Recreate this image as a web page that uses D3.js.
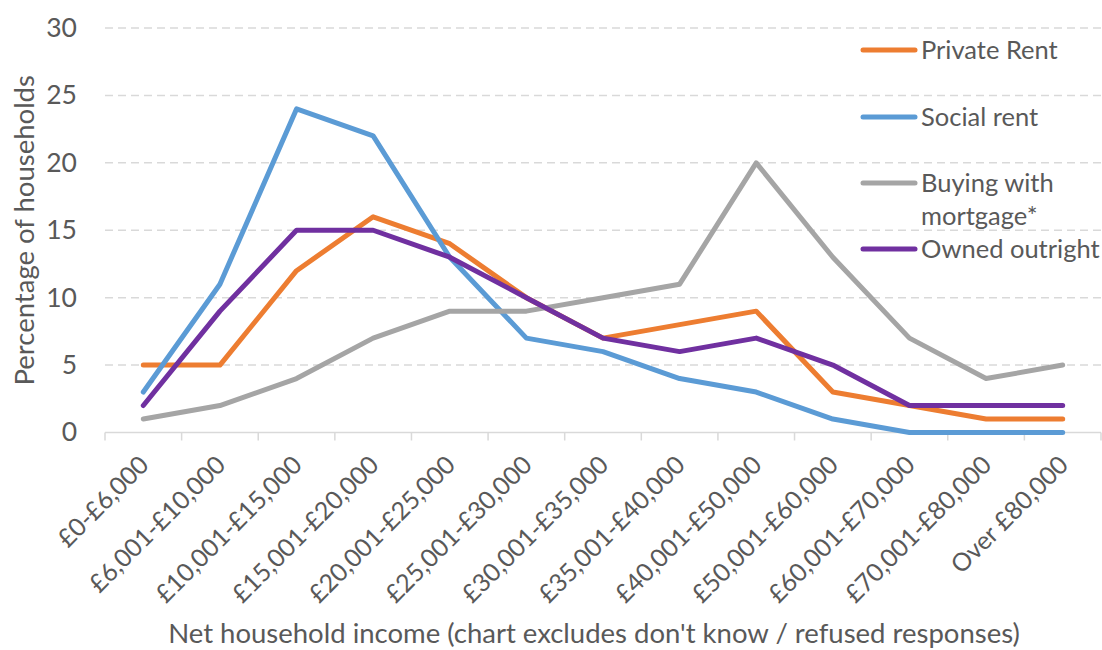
<!DOCTYPE html>
<html>
<head>
<meta charset="utf-8">
<script src="https://cdn.jsdelivr.net/npm/d3@7"></script>
<style>
  html, body { margin: 0; padding: 0; background: #ffffff; }
  svg { display: block; font-family: Lato, "Open Sans", sans-serif; }
</style>
</head>
<body>
<svg id="chart" width="1102" height="650"></svg>
<script>
// Income bands (x axis categories)
const categories = [
  "£0-£6,000", "£6,001-£10,000", "£10,001-£15,000", "£15,001-£20,000",
  "£20,001-£25,000", "£25,001-£30,000", "£30,001-£35,000", "£35,001-£40,000",
  "£40,001-£50,000", "£50,001-£60,000", "£60,001-£70,000", "£70,001-£80,000",
  "Over £80,000"
];

// Percentage of households in each band, by tenure
const privateRent    = [5, 5, 12, 16, 14, 10, 7, 8, 9, 3, 2, 1, 1];
const socialRent     = [3, 11, 24, 22, 13, 7, 6, 4, 3, 1, 0, 0, 0];
const buyingMortgage = [1, 2, 4, 7, 9, 9, 10, 11, 20, 13, 7, 4, 5];
const ownedOutright  = [2, 9, 15, 15, 13, 10, 7, 6, 7, 5, 2, 2, 2];

const seriesNames = ["Private Rent", "Social rent", "Buying with mortgage*", "Owned outright"];
const yTicks = [0, 5, 10, 15, 20, 25, 30];

const series = [
  { name: seriesNames[0], values: privateRent,    color: "#ED7D31" },
  { name: seriesNames[1], values: socialRent,     color: "#5B9BD5" },
  { name: seriesNames[2], values: buyingMortgage, color: "#A5A5A5" },
  { name: seriesNames[3], values: ownedOutright,  color: "#7030A0" }
];

const svg = d3.select("#chart");
const textColor = "#595959";

const plot = { left: 105, right: 1101, top: 28, bottom: 432.5 };

const x = d3.scaleBand().domain(categories).range([plot.left, plot.right]);
const y = d3.scaleLinear().domain([0, 30]).range([plot.bottom, plot.top]);
const cx = d => x(d) + x.bandwidth() / 2;

// Dashed horizontal gridlines
svg.append("g")
  .selectAll("line")
  .data(yTicks.filter(t => t > 0))
  .join("line")
  .attr("x1", plot.left).attr("x2", plot.right)
  .attr("y1", d => y(d)).attr("y2", d => y(d))
  .attr("stroke", "#d9d9d9")
  .attr("stroke-width", 1.5)
  .attr("stroke-dasharray", "8,5");

// Y axis labels
const yAxis = d3.axisLeft(y).tickValues(yTicks).tickSize(0).tickPadding(28);
svg.append("g")
  .attr("transform", `translate(${plot.left},0)`)
  .call(yAxis)
  .call(g => g.select(".domain").remove())
  .call(g => g.selectAll("text")
    .attr("fill", textColor)
    .attr("font-size", 26.5)
    .attr("font-family", "Lato, sans-serif"));

// X axis: baseline with tick marks at band boundaries
const xg = svg.append("g");
xg.append("line")
  .attr("x1", plot.left).attr("x2", plot.right)
  .attr("y1", plot.bottom).attr("y2", plot.bottom)
  .attr("stroke", "#d9d9d9").attr("stroke-width", 1.5);
const boundaries = categories.map(c => x(c)).concat([plot.right]);
xg.selectAll("line.tick")
  .data(boundaries)
  .join("line")
  .attr("class", "tick")
  .attr("x1", d => d).attr("x2", d => d)
  .attr("y1", plot.bottom).attr("y2", plot.bottom + 8)
  .attr("stroke", "#d9d9d9").attr("stroke-width", 1.5);

// Rotated category labels
xg.selectAll("text")
  .data(categories)
  .join("text")
  .attr("transform", d => `translate(${cx(d) + 7},${plot.bottom + 34}) rotate(-45)`)
  .attr("text-anchor", "end")
  .attr("fill", textColor)
  .attr("font-size", 25)
  .text(d => d);

// Axis titles
svg.append("text")
  .attr("transform", `translate(34,${(plot.top + plot.bottom) / 2}) rotate(-90)`)
  .attr("text-anchor", "middle")
  .attr("fill", textColor)
  .attr("font-size", 27.5)
  .text("Percentage of households");

svg.append("text")
  .attr("x", 594).attr("y", 643)
  .attr("text-anchor", "middle")
  .attr("fill", textColor)
  .attr("font-size", 27.5)
  .text("Net household income (chart excludes don't know / refused responses)");

// Series lines
const line = d3.line()
  .x((v, i) => cx(categories[i]))
  .y(v => y(v));

svg.append("g")
  .selectAll("path")
  .data(series)
  .join("path")
  .attr("d", s => line(s.values))
  .attr("fill", "none")
  .attr("stroke", s => s.color)
  .attr("stroke-width", 5)
  .attr("stroke-linejoin", "round")
  .attr("stroke-linecap", "round");

// Legend
const legendRows = [
  { s: series[0], y: 50,  lines: ["Private Rent"] },
  { s: series[1], y: 117, lines: ["Social rent"] },
  { s: series[2], y: 183, lines: ["Buying with", "mortgage*"] },
  { s: series[3], y: 249, lines: ["Owned outright"] }
];
const lg = svg.append("g");
legendRows.forEach(r => {
  lg.append("line")
    .attr("x1", 863).attr("x2", 915)
    .attr("y1", r.y).attr("y2", r.y)
    .attr("stroke", r.s.color)
    .attr("stroke-width", 5)
    .attr("stroke-linecap", "round");
  const t = lg.append("text")
    .attr("x", 921).attr("y", r.y + 9)
    .attr("fill", textColor)
    .attr("font-size", 25.5);
  r.lines.forEach((ln, i) => {
    t.append("tspan").attr("x", 921).attr("dy", i === 0 ? 0 : 33).text(ln);
  });
});
</script>
</body>
</html>
